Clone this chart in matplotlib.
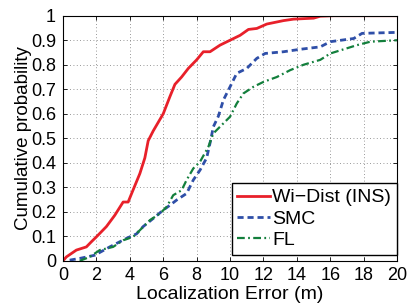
"""CDF of localization error: Wi-Dist (INS) vs SMC vs FL."""

import matplotlib
matplotlib.use("Agg")
import matplotlib.pyplot as plt

plt.rcParams["font.family"] = ["Liberation Sans", "DejaVu Sans"]

# ---------------------------------------------------------------------------
# Data
# ---------------------------------------------------------------------------
widist_x = [0, 0.2, 0.8, 1.4, 1.7, 2.0, 2.6, 3.1, 3.6, 3.9, 4.2, 4.6, 4.9, 5.1,
            5.4, 6.0, 6.4, 6.7, 7.1, 7.5, 8.0, 8.4, 8.8, 9.4, 10.0, 10.6, 11.1,
            11.6, 12.2, 13.2, 13.8, 15.0, 15.4, 16.2, 20]
widist_y = [0, 0.016, 0.044, 0.057, 0.078, 0.098, 0.14, 0.186, 0.24, 0.24, 0.29,
            0.356, 0.42, 0.49, 0.53, 0.60, 0.67, 0.72, 0.75, 0.785, 0.82, 0.853,
            0.853, 0.88, 0.90, 0.92, 0.944, 0.948, 0.966, 0.98, 0.986, 0.99,
            0.998, 1.0, 1.0]

smc_x = [0.4, 1.0, 1.9, 2.8, 3.4, 3.9, 4.4, 4.8, 5.4, 6.0, 6.4, 6.8, 7.4, 7.8,
         8.2, 8.6, 8.8, 9.0, 9.3, 9.6, 10.0, 10.4, 11.0, 11.6, 12.1, 13.2, 14.2,
         15.4, 16.0, 17.4, 17.9, 20]
smc_y = [0.003, 0.01, 0.023, 0.057, 0.078, 0.095, 0.11, 0.14, 0.173, 0.207,
         0.227, 0.248, 0.275, 0.33, 0.37, 0.42, 0.48, 0.547, 0.59, 0.656, 0.71,
         0.765, 0.785, 0.826, 0.846, 0.853, 0.863, 0.873, 0.894, 0.907, 0.928,
         0.932]

fl_x = [1.0, 1.6, 2.2, 3.0, 3.6, 4.2, 4.6, 5.2, 5.8, 6.2, 6.6, 7.1, 7.4, 7.8,
        8.2, 8.7, 9.0, 9.5, 10.0, 10.4, 10.8, 11.4, 12.0, 12.8, 13.6, 14.4,
        15.4, 16.0, 16.8, 17.6, 18.4, 20]
fl_y = [0, 0.016, 0.044, 0.057, 0.084, 0.098, 0.125, 0.166, 0.193, 0.22, 0.268,
        0.288, 0.33, 0.377, 0.404, 0.465, 0.52, 0.554, 0.588, 0.642, 0.683, 0.71,
        0.73, 0.75, 0.778, 0.80, 0.82, 0.846, 0.863, 0.88, 0.894, 0.90]

x_ticks = list(range(0, 21, 2))
y_ticks = [i / 10 for i in range(11)]
y_labels = ["0", "0.1", "0.2", "0.3", "0.4", "0.5", "0.6", "0.7", "0.8", "0.9", "1"]


def main():
    fig = plt.figure(figsize=(4.09, 3.08), dpi=100)
    ax = fig.add_axes([0.154, 0.153, 0.817, 0.796])

    ax.plot(widist_x, widist_y, color="#e8202a", lw=2.0, label="Wi\u2212Dist (INS)")
    ax.plot(smc_x, smc_y, color="#2f4fa8", lw=2.0, ls=(0, (2.2, 1.4)), label="SMC")
    ax.plot(fl_x, fl_y, color="#137f3c", lw=1.6, ls=(0, (3.5, 1.5, 0.8, 1.5)), label="FL")

    ax.set_xlim(0, 20)
    ax.set_ylim(0, 1)
    ax.set_xticks(x_ticks)
    ax.set_yticks(y_ticks)
    ax.set_yticklabels(y_labels)
    ax.tick_params(direction="in", top=True, right=True, labelsize=13,
                   length=3, width=0.6)
    ax.tick_params(axis="x", pad=4.5)
    ax.tick_params(axis="y", pad=5)
    ax.grid(True, color="#777777", ls=(0, (1, 3)), lw=0.6)
    for sp in ax.spines.values():
        sp.set_linewidth(0.8)

    ax.set_xlabel("Localization Error (m)", fontsize=14, labelpad=1)
    ax.set_ylabel("Cumulative probability", fontsize=13.5, labelpad=-1)

    leg = ax.legend(loc="lower right", bbox_to_anchor=(1.0, 0.026),
                    fontsize=14, fancybox=False, framealpha=1,
                    edgecolor="black", borderpad=0.3, handlelength=1.65,
                    handletextpad=0.15, labelspacing=0.18, borderaxespad=0)
    leg.get_frame().set_linewidth(1.0)

    fig.savefig("out.png", dpi=100)


if __name__ == "__main__":
    main()
